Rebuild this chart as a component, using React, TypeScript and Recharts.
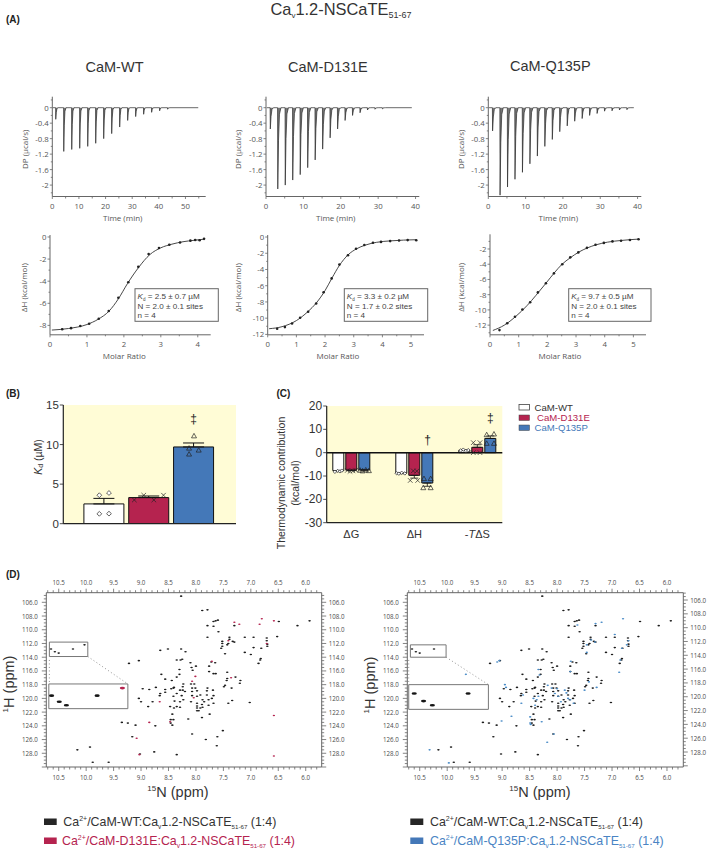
import React from 'react';
import { ComposedChart, Line, Area, Scatter, Bar, Cell, ErrorBar, XAxis, YAxis, CartesianGrid, ReferenceArea, ReferenceLine } from 'recharts';

const W = 709, H = 849;
const INK = '#565656';
const RED = '#B5234F';
const BLUE = '#4478B8';
const YELLOW = '#FFFCD6';
const SANS = '"Liberation Sans", Arial, sans-serif';
const OPEN = '"Open Sans", sans-serif';

// ---- Panel A: thermograms (injection depth, µcal/s)
const wtInjectionTimes = [1.25, 4.25, 7.25, 10.25, 13.25, 16.25, 19.25, 22.25, 25.25, 28.25, 31.25, 34.25, 37.25, 40.25, 43.25];
const wtPeaks = [-0.3, -1.13, -1.08, -1.05, -1.0, -0.92, -0.8, -0.67, -0.5, -0.33, -0.23, -0.17, -0.12, -0.08, -0.04];
const d131eInjectionTimes = [1.1, 3.1, 5.1, 7.1, 9.1, 11.1, 13.1, 15.1, 17.1, 19.1, 21.1, 23.1, 25.1, 27.1, 29.1, 31.1];
const d131ePeaks = [-0.55, -2.1, -2.0, -1.87, -1.73, -1.55, -1.35, -1.07, -0.78, -0.55, -0.33, -0.2, -0.13, -0.06, -0.04, -0.03];
const q135pInjectionTimes = [1.1, 3.1, 5.1, 7.1, 9.1, 11.1, 13.1, 15.1, 17.1, 19.1, 21.1, 23.1, 25.1, 27.1, 29.1, 31.1, 33.1, 35.1, 37.1];
const q135pPeaks = [-0.6, -2.26, -2.05, -1.85, -1.67, -1.45, -1.25, -1.0, -0.82, -0.62, -0.47, -0.35, -0.28, -0.2, -0.15, -0.09, -0.08, -0.06, -0.05];

// ---- Panel A: isotherms
const wtIsoPoints = [[0.33, -8.35], [0.57, -8.25], [0.82, -8.05], [1.06, -7.85], [1.32, -7.4], [1.59, -6.7], [1.85, -5.5], [2.12, -4.1], [2.39, -2.7], [2.67, -1.55], [2.95, -1.0], [3.23, -0.7], [3.52, -0.5], [3.8, -0.33], [3.93, -0.27], [4.05, -0.3], [4.17, -0.17]];
const wtIsoFit = [[0.05, -8.42], [0.5, -8.28], [1, -7.92], [1.3, -7.45], [1.6, -6.7], [1.85, -5.6], [2.1, -4.2], [2.4, -2.75], [2.7, -1.6], [3, -0.98], [3.3, -0.65], [3.6, -0.43], [3.9, -0.3], [4.17, -0.2]];
const d131eIsoPoints = [[0.33, -11.3], [0.6, -11.1], [0.85, -10.65], [1.13, -9.95], [1.41, -9.2], [1.69, -8.2], [1.95, -6.8], [2.23, -5.1], [2.5, -3.4], [2.8, -2.25], [3.08, -1.45], [3.37, -0.98], [3.67, -0.7], [3.95, -0.6], [4.27, -0.5], [4.58, -0.42], [4.88, -0.38], [5.18, -0.4]];
const d131eIsoFit = [[0.05, -11.3], [0.5, -11.05], [1, -10.3], [1.4, -9.2], [1.7, -8.1], [2, -6.6], [2.25, -5.0], [2.5, -3.5], [2.8, -2.2], [3.1, -1.45], [3.4, -1.0], [3.8, -0.65], [4.3, -0.47], [5.18, -0.33]];
const q135pIsoPoints = [[0.33, -12.65], [0.6, -11.75], [0.87, -10.9], [1.13, -9.95], [1.4, -9], [1.67, -7.7], [1.95, -6.5], [2.23, -5.2], [2.52, -4], [2.8, -3.1], [3.08, -2.45], [3.38, -1.85], [3.68, -1.45], [3.97, -1.2], [4.27, -1.0], [4.57, -0.92], [4.88, -0.82], [5.18, -0.72]];
const q135pIsoFit = [[0.1, -12.7], [0.5, -12.0], [0.9, -10.85], [1.3, -9.4], [1.6, -8.1], [1.95, -6.5], [2.25, -5.1], [2.5, -4.05], [2.8, -3.15], [3.1, -2.4], [3.4, -1.85], [3.7, -1.45], [4.1, -1.1], [4.6, -0.87], [5.18, -0.7]];

// ---- Panel B
const kdCategories = ['WT', 'D131E', 'Q135P'];
const kdValues = [2.5, 3.3, 9.7];
const kdErrors = [0.7, 0.2, 0.5];
const kdColors = ['#FFFFFF', RED, BLUE];
const kdWt = [[-0.11, 3.6], [0.105, 3.88], [-0.11, 1.25], [0.105, 1.27]];
const kdD131e = [[0.67, 3.0], [0.88, 3.6], [1.105, 3.0], [1.32, 3.6]];
const kdQ135p = [[1.89, 8.8], [2.105, 9.3], [1.89, 9.55], [2.0, 11.1]];

// ---- Panel C
const thermoCategories = ['ΔG', 'ΔH', '-TΔS'];
const thermoWt = [-7.7, -8.8, 1.0];
const thermoD131e = [-7.5, -9.7, 2.3];
const thermoQ135p = [-7.4, -13.0, 6.1];
const thermoWtErr = [0.2, 0.2, 0.15];
const thermoD131eErr = [0.2, 1.2, 1.1];
const thermoQ135pErr = [0.15, 1.4, 1.1];
const thermoWtPts = [[-0.26, -8.2], [-0.215, -7.8], [-0.18, -8.0], [-0.15, -7.7], [0.72, -8.8], [0.755, -9.0], [0.8, -8.6], [0.85, -8.9], [1.736, 1.0], [1.778, 1.3], [1.82, 0.8], [1.857, 1.1]];
const thermoD131ePts = [[-0.063, -7.6], [-0.02, -8.0], [0.027, -7.8], [0.07, -7.5], [0.936, -11.9], [1.054, -11.9], [0.984, -7.8], [1.04, -7.9], [1.937, 4.3], [2.043, 4.3], [1.937, 0], [2.043, 0]];
const thermoQ135pPts = [[0.14, -7.5], [0.18, -7.8], [0.23, -7.4], [0.28, -7.7], [1.154, -11.1], [1.26, -11.1], [1.143, -15], [1.26, -15], [2.149, 7.7], [2.265, 8.0], [2.149, 4.0], [2.265, 4.0]];

// ---- Panel D: HSQC peaks as [15N, 1H] ppm
const wtPeaksNmr = [
  [8.27, 105.1], [7.885, 107.2], [7.79, 107.1], [7.68, 108.8], [7.64, 108.7], [7.6, 108.6], [7.79, 109.4], [7.68, 109.5], [7.59, 110.3], [7.79, 111.1],
  [7.39, 111.1], [7.39, 111.4], [7.52, 111.7], [7.52, 112.0], [7.52, 112.4], [7.54, 112.7], [7.43, 112.2], [7.41, 112], [7.33, 111.7], [7.3, 111.8],
  [7.47, 113.5], [7.3, 109.4], [7.11, 111.1], [7.11, 113.3], [7, 113.6], [6.95, 111.1], [6.95, 112.6], [6.81, 112.7], [6.71, 111.2], [6.71, 111.6],
  [6.7, 112.1], [6.7, 112.4], [6.52, 111.0], [6.49, 108.8], [6.15, 109.4], [5.93, 108.7], [6.82, 114.2], [6.83, 114.4], [6.86, 114.9], [8.65, 113.0],
  [8.51, 112.8], [8.27, 112.8], [8.19, 113.2], [8.35, 114.4], [8.28, 114.4], [8.25, 114.3], [9.22, 114.9], [9.04, 114.5], [8.1, 114.8], [8.08, 115.5],
  [8.06, 115.9], [8.0, 115.3], [8.3, 115.8], [8.63, 116.5], [8.56, 117.2], [8.44, 117.4], [8.3, 116.5], [8.35, 116.9], [7.65, 114.8], [7.72, 114.7],
  [7.76, 115.3], [7.76, 116.1], [7.68, 116.4], [7.64, 116.4], [7.43, 116.2], [7.43, 117.1], [7.44, 117.4], [7.28, 116.9], [7.19, 117.4], [7.2, 117.8],
  [7.47, 118.1], [7.49, 118.3], [7.35, 118.5], [7.34, 120.3], [7.41, 120.7], [7.02, 120.6], [8.97, 118.6], [8.85, 118.7], [8.73, 118.4], [8.65, 119.3],
  [8.66, 119.6], [8.56, 118.7], [8.56, 119.1], [9.04, 120], [9, 120.5], [8.79, 120.5], [8.87, 121.2], [8.45, 118.6], [8.41, 118.5], [8.4, 118.4],
  [8.23, 117.9], [8.24, 118.3], [8.24, 118.8], [8.2, 119], [8.29, 118.8], [8.35, 119.3], [8.41, 119.7], [8.26, 119.6], [8.23, 120.2], [8.29, 120.5],
  [8.39, 120.4], [8.35, 121.2], [8.4, 121.4], [8.29, 121.3], [8.47, 121.2], [8.43, 122.3], [8.09, 117.9], [8.03, 117.9], [8.07, 118.5], [8.01, 118.5],
  [8.07, 119], [7.98, 118.9], [8.07, 119.6], [7.98, 119.7], [7.92, 119.5], [8.09, 120.5], [7.98, 120.7], [7.98, 121.1], [7.98, 121.4], [7.92, 121.4],
  [7.98, 121.8], [7.95, 121.8], [7.88, 121.3], [7.89, 120.9], [7.88, 120.2], [7.85, 120.5], [7.79, 118.5], [7.8, 118.9], [7.8, 119.5], [7.77, 120.2],
  [7.68, 119.6], [7.69, 118.8], [7.71, 120], [7.68, 120.7], [7.77, 121], [7.89, 122.8], [7.75, 122.3], [8.14, 123], [8.07, 125.2], [7.82, 126],
  [7.61, 125.6], [7.51, 124.7], [7.62, 126.9], [9.35, 123.5], [9.24, 123.6], [9.1, 123.9], [8.74, 124], [8.46, 123.1], [8.41, 123.1], [8.46, 123.6],
  [8.43, 123.9], [9.16, 125.6], [10.16, 127.5], [9.93, 127.1], [9.88, 129.3], [9.59, 129.3], [9.02, 128.1], [8.76, 127.8], [8.35, 128.2],
  [10.64, 112.8], [10.57, 113.2], [10.5, 113.4], [10.24, 112.8],
];
const wtExtraLeft = [[10.03, 112.2]];
const d131ePeaksNmr = [[6.58, 108.7], [9.08, 125.8], [8.66, 120.5], [6.8, 108.4], [6.84, 109.2], [7.3, 108.9], [7.21, 109.2], [7.71, 114.6], [8.07, 117.5], [8.01, 116.8], [7.36, 117], [7.41, 111.6], [6.71, 112], [8.47, 123.4], [8.85, 123.5], [9.03, 128.2], [6.58, 128.4], [6.58, 122.5], [8.04, 119.9]];
const q135pPeaksNmr = [[9.66, 116.5], [9.09, 114.7], [9.05, 114.5], [8.95, 118], [8.93, 118.4], [9.01, 123.3], [8.83, 122.6], [10.32, 127.5], [9.97, 129.4], [8.18, 126.4], [8.06, 125.2], [8.49, 122.7], [8.48, 123.8], [8.49, 123.6], [8.28, 123.4], [8.34, 115.8], [8.32, 116.6], [8.65, 120.7], [8.62, 119.5], [8.43, 120], [8.37, 120.2], [8.34, 119.7], [8.4, 121], [8.17, 118.1], [8.1, 118.5], [8.04, 119.3], [8, 118.6], [7.98, 119.7], [7.93, 120.5], [7.86, 118.8], [7.8, 120], [7.76, 120.2], [7.7, 120.7], [7.83, 119.2], [7.76, 116.1], [7.75, 114.6], [7.5, 118.8], [7.28, 118.4], [7.42, 117.6], [7.46, 112.2], [7.46, 113.3], [7.63, 109.3], [7.38, 111.5], [7.31, 111.8], [7.3, 109.1], [7.19, 108.9], [6.8, 108.4], [6.95, 110.7], [6.7, 111.6], [6.85, 114.4], [6.87, 116.2], [6.82, 112.7], [6.73, 112.2]];
const leftInsetBlack = [[10.63, 119.6], [10.49, 120.5], [10.36, 121], [9.8, 119.6]];
const leftInsetRed = [[9.34, 118.5]];
const rightInsetBlack = [[10.6, 119.3], [10.43, 120.4], [10.27, 121], [9.62, 119.3]];

// ---- Helpers
const seq = (a: number, b: number, s: number) => {
  const out: number[] = [];
  const n = Math.round((b - a) / s);
  for (let i = 0; i <= n; i++) out.push(Math.round((a + i * s) * 1000) / 1000);
  return out;
};
const isMult = (v: number, m: number) => Math.abs(v / m - Math.round(v / m)) < 1e-6;
const pairs = (a: number[][]) => a.map(([x, y]) => ({ x, y }));

const thermogramRows = (times: number[], peaks: number[], end: number) => {
  const rows: { x: number; y: number }[] = [{ x: 0.2, y: 0 }];
  times.forEach((t, i) => {
    const d = peaks[i];
    rows.push({ x: t, y: 0 }, { x: t + 0.05, y: d }, { x: t + 0.25, y: d * 0.4 }, { x: t + 0.5, y: d * 0.08 }, { x: t + 0.9, y: 0 });
  });
  rows.push({ x: end, y: 0 });
  return rows;
};

type TickOpts = { side: 'left' | 'right' | 'top' | 'bottom'; major: number; fmt?: (v: number) => string; font: number; family?: string; color?: string; majorLen: number; minorLen: number; gap: number; stroke?: string };
const makeTick = (o: TickOpts) => (p: any) => {
  const v = p.payload.value as number;
  const isMajor = isMult(v, o.major);
  const len = isMajor ? o.majorLen : o.minorLen;
  const fmt = o.fmt || ((n: number) => String(n));
  const st = o.stroke || '#666';
  const tc = { fontSize: o.font, fontFamily: o.family || OPEN, fill: o.color || INK };
  const { x, y } = p;
  const label = isMajor ? fmt(v) : '';
  if (o.side === 'left' || o.side === 'right') {
    const s = o.side === 'left' ? -1 : 1;
    return (
      <g>
        <line x1={x} x2={x + s * len} y1={y} y2={y} stroke={st} strokeWidth={0.8} />
        {label && <text x={x + s * (o.majorLen + o.gap)} y={y} textAnchor={s < 0 ? 'end' : 'start'} dominantBaseline="central" {...tc}>{label}</text>}
      </g>
    );
  }
  const s = o.side === 'top' ? -1 : 1;
  return (
    <g>
      <line x1={x} x2={x} y1={y} y2={y + s * len} stroke={st} strokeWidth={0.8} />
      {label && <text x={x} y={y + s * (o.majorLen + o.gap)} textAnchor="middle" dominantBaseline={s < 0 ? 'auto' : 'hanging'} {...tc}>{label}</text>}
    </g>
  );
};

const Layer = ({ children }: { children: React.ReactNode }) => (
  <div style={{ position: 'absolute', left: 0, top: 0, width: W, height: H }}>{children}</div>
);
// plot rectangle in page pixels; axes take 1px of the margin on the sides where they are drawn
const frame = (l: number, t: number, r: number, b: number, axL = 1, axT = 0, axR = 0, axB = 1) => ({ left: l - axL, top: t - axT, right: W - r - axR, bottom: H - b - axB });
const axisCommon = { tickSize: 0, tickMargin: 0, tickLine: false, interval: 0 as const, allowDataOverflow: true, minTickGap: 0 };

const ThermoPanel = ({ rows, l, r, xMax, xTicks }: any) => (
  <Layer>
    <ComposedChart width={W} height={H} data={rows} margin={frame(l, 96.7, r, 196.5)}>
      <XAxis {...axisCommon} type="number" dataKey="x" height={1} domain={[0, xMax]} ticks={xTicks} stroke="#666"
        tick={makeTick({ side: 'bottom', major: 10, font: 7.8, majorLen: 2.5, minorLen: 2, gap: 4 })} />
      <YAxis {...axisCommon} type="number" width={1} domain={[-2.295, 0.284]} ticks={seq(-2.2, 0.2, 0.2)} stroke="#666"
        tick={makeTick({ side: 'left', major: 0.4, font: 7.8, majorLen: 2.5, minorLen: 1.5, gap: 1 })} />
      <Area dataKey="y" stroke="none" fill="#555" fillOpacity={0.8} isAnimationActive={false} />
      <Line dataKey="y" stroke="#2a2a2a" strokeWidth={0.7} dot={false} isAnimationActive={false} />
    </ComposedChart>
  </Layer>
);

const PointDot = (p: any) => <circle cx={p.cx} cy={p.cy} r={1.3} fill="#222" />;

const IsoPanel = ({ fit, pts, l, t, r, xMax, yMin, yMax, yTicks, yMajor }: any) => (
  <Layer>
    <ComposedChart width={W} height={H} margin={frame(l, t, r, 334.8)}>
      <XAxis {...axisCommon} type="number" dataKey="x" height={1} domain={[0, xMax]} ticks={seq(0, Math.floor(xMax * 2) / 2, 0.5)} stroke="#666"
        tick={makeTick({ side: 'bottom', major: 1, font: 7.8, majorLen: 2.5, minorLen: 1.5, gap: 3 })} />
      <YAxis {...axisCommon} type="number" width={1} domain={[yMin, yMax]} ticks={yTicks} stroke="#666"
        tick={makeTick({ side: 'left', major: yMajor, font: 7.8, majorLen: 2.5, minorLen: 1.5, gap: 1 })} />
      <Line data={pairs(fit)} dataKey="y" type="monotone" stroke="#333" strokeWidth={0.9} dot={false} isAnimationActive={false} />
      <Scatter data={pairs(pts)} dataKey="y" shape={PointDot} isAnimationActive={false} />
    </ComposedChart>
  </Layer>
);

const diamond = (r: number, fill: string) => (p: any) => <path d={`M${p.cx} ${p.cy - r}L${p.cx + r} ${p.cy}L${p.cx} ${p.cy + r}L${p.cx - r} ${p.cy}Z`} fill={fill} stroke="#222" strokeWidth={0.7} />;
const Cross = (p: any) => <path d={`M${p.cx - 2.3} ${p.cy - 2.3}L${p.cx + 2.3} ${p.cy + 2.3}M${p.cx + 2.3} ${p.cy - 2.3}L${p.cx - 2.3} ${p.cy + 2.3}`} fill="none" stroke="#222" strokeWidth={0.7} />;
const Tri = (p: any) => <path d={`M${p.cx} ${p.cy - 2.5}L${p.cx + 2.5} ${p.cy + 2}L${p.cx - 2.5} ${p.cy + 2}Z`} fill="none" stroke="#222" strokeWidth={0.7} />;

const smallPeak = (color: string, rx = 1.3, ry = 0.8) => (p: any) => <ellipse cx={p.cx} cy={p.cy} rx={rx} ry={ry} fill={color} />;

const nmrTickFmt = (v: number) => v.toFixed(1);
const NmrPanel = ({ l, r, xDomain, rightDomain, seriesPeaks, seriesColor, insetSeries, boxA, boxB, dots, extra }: any) => {
  const base = { font: 6.2, color: '#4a4a4a', fmt: nmrTickFmt, family: OPEN };
  const xTicks = seq(5.8, 10.7, 0.1);
  const yTicks = seq(105, 130, 0.5);
  const xb = { majorLen: 4, minorLen: 2.5, gap: 3.5 };
  const yFmt = (v: number) => (v >= 106 && v <= 128 ? v.toFixed(1) : '');
  return (
    <Layer>
      <ComposedChart width={W} height={H} margin={frame(l, 592.7, r, 767, 1, 1, 1, 1)}>
        <XAxis {...axisCommon} xAxisId="b" orientation="bottom" type="number" dataKey="x" reversed height={1} domain={xDomain} ticks={xTicks} stroke="#666"
          tick={makeTick({ ...base, ...xb, side: 'bottom', major: 0.5 })} />
        <XAxis {...axisCommon} xAxisId="t" orientation="top" type="number" dataKey="x" reversed height={1} domain={xDomain} ticks={xTicks} stroke="#666"
          tick={makeTick({ ...base, ...xb, side: 'top', major: 0.5 })} />
        <YAxis {...axisCommon} yAxisId="l" orientation="left" type="number" dataKey="y" reversed width={1} domain={[104.6, 130]} ticks={yTicks} stroke="#666"
          tick={makeTick({ ...base, majorLen: 4.5, minorLen: 2.5, gap: 4, side: 'left', major: 2, fmt: yFmt })} />
        <YAxis {...axisCommon} yAxisId="r" orientation="right" type="number" dataKey="y" reversed width={1} domain={rightDomain} ticks={yTicks} stroke="#666"
          tick={makeTick({ ...base, majorLen: 4.5, minorLen: 2.5, gap: 2.5, side: 'right', major: 2, fmt: yFmt })} />
        <Scatter xAxisId="b" yAxisId="l" data={pairs(wtPeaksNmr)} shape={smallPeak('#1c1c1c')} isAnimationActive={false} />
        {extra && <Scatter xAxisId="b" yAxisId="l" data={pairs(extra)} shape={smallPeak('#1c1c1c')} isAnimationActive={false} />}
        <Scatter xAxisId="b" yAxisId="l" data={pairs(seriesPeaks)} shape={smallPeak(seriesColor, 1.2, 0.8)} isAnimationActive={false} />
        {insetSeries.map((s: any, i: number) => (
          <Scatter key={i} xAxisId="b" yAxisId="l" data={pairs(s.data)} shape={smallPeak(s.color, 2.6, 1.3)} isAnimationActive={false} />
        ))}
        {[boxA, boxB].map((b: number[], i: number) => (
          <ReferenceArea key={i} xAxisId="b" yAxisId="l" x1={b[0]} x2={b[1]} y1={b[2]} y2={b[3]} fill="none" stroke="#777" strokeWidth={1} fillOpacity={0} ifOverflow="visible" />
        ))}
        {dots.map((d: number[], i: number) => (
          <ReferenceLine key={i} xAxisId="b" yAxisId="l" segment={[{ x: d[0], y: d[1] }, { x: d[2], y: d[3] }]} stroke="#777" strokeWidth={0.8} strokeDasharray="1 2.5" ifOverflow="visible" />
        ))}
      </ComposedChart>
    </Layer>
  );
};

// text made of runs shifted from the baseline: [text, fontSize, shift, italic?]
const runs = (segs: any[]) => {
  let prev = 0;
  return segs.map((s, i) => {
    const dy = s[2] - prev;
    prev = s[2];
    return <tspan key={i} dy={dy} fontSize={s[1]} fontStyle={s[3] ? 'italic' : undefined}>{s[0]}</tspan>;
  });
};

const AnnBox = ({ x, x2, k, nLine }: { x: number; x2: number; k: string; nLine: string }) => {
  const c = { fontFamily: SANS, fontSize: 8.1, fill: '#444' };
  return (
    <g>
      <rect x={x} y={288.7} width={x2 - x} height={32.6} fill="#fff" stroke="#666" strokeWidth={1} />
      <text x={x + 2.5} y={299} {...c}>{runs([['K', 8.1, 0, true], ['d', 4.5, 1.5], [` = ${k} µM`, 8.1, 0]])}</text>
      <text x={x + 2.5} y={308.5} {...c}>N = {nLine} sites</text>
      <text x={x + 2.5} y={318} {...c}>n = 4</text>
    </g>
  );
};

const LEG = 12.4;
const NmrLegendText = ({ x, y, name, color }: { x: number; y: number; name: string; color: string }) => (
  <text x={x} y={y} fontFamily={SANS} fontSize={LEG} fill={color}>
    {runs([['Ca', LEG, 0], ['2+', 7, -5], [`/${name}:Ca`, LEG, 0], ['v', 6.5, 2.5], ['1.2-NSCaTE', LEG, 0], ['51-67', 6.2, 2.5], [' (1:4)', LEG, 0]])}
  </text>
);

const Rot = ({ x, y, children, font = 8, family = OPEN, fill = INK }: any) => (
  <text x={x} y={y} transform={`rotate(-90 ${x} ${y})`} textAnchor="middle" dominantBaseline="central" fontSize={font} fontFamily={family} fill={fill}>{children}</text>
);
const Mid = ({ x, y, children, font = 8, family = OPEN, fill = INK }: any) => (
  <text x={x} y={y} textAnchor="middle" dominantBaseline="central" fontSize={font} fontFamily={family} fill={fill}>{children}</text>
);

const thermoRows = thermoCategories.map((c, i) => ({
  x: i, label: c, wt: thermoWt[i], d131e: thermoD131e[i], q135p: thermoQ135p[i],
  wtE: thermoWt[i] < 0 ? [thermoWtErr[i], 0] : [0, thermoWtErr[i]],
  dE: thermoD131e[i] < 0 ? [thermoD131eErr[i], 0] : [0, thermoD131eErr[i]],
  qE: thermoQ135p[i] < 0 ? [thermoQ135pErr[i], 0] : [0, thermoQ135pErr[i]],
}));
const kdRows = kdCategories.map((c, i) => ({ label: c, kd: kdValues[i], e: [0, kdErrors[i]] }));

const thermoTick = (p: any) => {
  const lab = thermoCategories[p.payload.value] || '';
  const parts = lab.split('T');
  return (
    <text x={p.x} y={p.y + 11} textAnchor="middle" dominantBaseline="central" fontFamily={SANS} fontSize={11} fill="#333">
      {parts.length > 1 ? (<>{parts[0]}<tspan fontStyle="italic">T</tspan>{parts[1]}</>) : lab}
    </text>
  );
};

const C_MARGIN = { left: 326.7, top: 406, right: W - 502.3, bottom: H - 522.7 };
const C_XDOMAIN = [-0.39, 2.397];

export default function App() {
  return (
    <div style={{ position: 'absolute', left: 0, top: 0, width: W, height: H, background: '#fff', overflow: 'hidden' }}>
      <ThermoPanel rows={thermogramRows(wtInjectionTimes, wtPeaks, 54.8)} l={52.3} r={205.7} xMax={57.6} xTicks={seq(0, 55, 5)} />
      <ThermoPanel rows={thermogramRows(d131eInjectionTimes, d131ePeaks, 39)} l={266} r={419.3} xMax={41} xTicks={seq(0, 40, 5)} />
      <ThermoPanel rows={thermogramRows(q135pInjectionTimes, q135pPeaks, 39)} l={488.3} r={641.3} xMax={41} xTicks={seq(0, 40, 5)} />

      <IsoPanel fit={wtIsoFit} pts={wtIsoPoints} l={50} t={235} r={210.7} xMax={4.35} yMin={-8.85} yMax={0.18} yTicks={seq(-8, 0, 1)} yMajor={2} />
      <IsoPanel fit={d131eIsoFit} pts={d131eIsoPoints} l={267.7} t={235} r={424} xMax={5.45} yMin={-12.05} yMax={0.25} yTicks={seq(-12, 0, 1)} yMajor={2} />
      <IsoPanel fit={q135pIsoFit} pts={q135pIsoPoints} l={490} t={234.3} r={646} xMax={5.44} yMin={-13.27} yMax={-0.07} yTicks={seq(-13, -1, 1)} yMajor={2} />

      {/* Panel B */}
      <Layer>
        <ComposedChart width={W} height={H} data={kdRows} margin={frame(63.3, 405, 236, 523.7)} barSize={40}>
          <CartesianGrid fill={YELLOW} horizontal={false} vertical={false} />
          <XAxis xAxisId="cat" {...axisCommon} type="category" dataKey="label" height={1} padding={{ left: 18.6, right: 19.6 }} tick={false} stroke="#222" strokeWidth={1.2} />
          <XAxis xAxisId="num" type="number" dataKey="x" hide domain={[-0.913, 2.936]} allowDataOverflow />
          <YAxis {...axisCommon} type="number" width={1} domain={[0, 15]} ticks={[0, 5, 10, 15]} stroke="#222" strokeWidth={1.2}
            tick={makeTick({ side: 'left', major: 5, font: 11.5, family: SANS, color: '#333', majorLen: 3.5, minorLen: 3.5, gap: 1, stroke: '#222' })} />
          <Bar xAxisId="cat" dataKey="kd" stroke="#111" strokeWidth={1} isAnimationActive={false}>
            {kdColors.map((c, i) => <Cell key={i} fill={c} />)}
            <ErrorBar dataKey={(d: any) => d.e} direction="y" width={10.5} stroke="#111" strokeWidth={1} isAnimationActive={false} />
          </Bar>
          <Scatter xAxisId="num" data={pairs(kdWt)} dataKey="y" shape={diamond(2.4, '#fff')} isAnimationActive={false} />
          <Scatter xAxisId="num" data={pairs(kdD131e)} dataKey="y" shape={Cross} isAnimationActive={false} />
          <Scatter xAxisId="num" data={pairs(kdQ135p)} dataKey="y" shape={Tri} isAnimationActive={false} />
        </ComposedChart>
      </Layer>

      {/* Panel C: background and axes */}
      <Layer>
        <ComposedChart width={W} height={H} data={thermoRows} margin={frame(326.7, 406, 502.3, 522.7)}>
          <CartesianGrid fill={YELLOW} horizontal={false} vertical={false} />
          <XAxis {...axisCommon} type="number" dataKey="x" height={1} domain={C_XDOMAIN} ticks={[0, 1, 2]} tick={thermoTick} stroke="#222" strokeWidth={1.2} />
          <YAxis {...axisCommon} type="number" width={1} domain={[-30, 20]} ticks={[-30, -20, -10, 0, 10, 20]} stroke="#222" strokeWidth={1.2}
            tick={makeTick({ side: 'left', major: 10, font: 12, family: SANS, color: '#333', majorLen: 3.5, minorLen: 3.5, gap: 1, stroke: '#222' })} />
        </ComposedChart>
      </Layer>
      {/* Panel C: bars, on bands 63px wide that reach past the axis */}
      <Layer>
        <ComposedChart width={W} height={H} data={thermoRows} margin={{ left: 319.8, top: 406, right: W - 508.8, bottom: H - 522.7 }} barSize={11} barGap={2}>
          <XAxis type="category" dataKey="label" hide />
          <YAxis type="number" hide domain={[-30, 20]} allowDataOverflow />
          <Bar dataKey="wt" fill="#fff" stroke="#111" strokeWidth={1} isAnimationActive={false}>
            <ErrorBar dataKey={(d: any) => d.wtE} direction="y" width={4} stroke="#111" strokeWidth={0.8} isAnimationActive={false} />
          </Bar>
          <Bar dataKey="d131e" fill={RED} stroke="#111" strokeWidth={1} isAnimationActive={false}>
            <ErrorBar dataKey={(d: any) => d.dE} direction="y" width={4} stroke="#111" strokeWidth={0.8} isAnimationActive={false} />
          </Bar>
          <Bar dataKey="q135p" fill={BLUE} stroke="#111" strokeWidth={1} isAnimationActive={false}>
            <ErrorBar dataKey={(d: any) => d.qE} direction="y" width={4} stroke="#111" strokeWidth={0.8} isAnimationActive={false} />
          </Bar>
        </ComposedChart>
      </Layer>
      {/* Panel C: zero line and points */}
      <Layer>
        <ComposedChart width={W} height={H} margin={C_MARGIN}>
          <XAxis type="number" dataKey="x" hide domain={C_XDOMAIN} allowDataOverflow />
          <YAxis type="number" hide domain={[-30, 20]} allowDataOverflow />
          <ReferenceLine y={0} stroke="#111" strokeWidth={1.5} />
          <Scatter data={pairs(thermoWtPts)} dataKey="y" shape={diamond(1.7, '#fff')} isAnimationActive={false} />
          <Scatter data={pairs(thermoD131ePts)} dataKey="y" shape={Cross} isAnimationActive={false} />
          <Scatter data={pairs(thermoQ135pPts)} dataKey="y" shape={Tri} isAnimationActive={false} />
        </ComposedChart>
      </Layer>

      {/* Panel D */}
      <NmrPanel l={46.3} r={321.7} xDomain={[5.709, 10.726]} rightDomain={[104.6, 130]} seriesPeaks={d131ePeaksNmr} seriesColor={RED}
        extra={wtExtraLeft}
        insetSeries={[{ data: leftInsetBlack, color: '#151515' }, { data: leftInsetRed, color: RED }]}
        boxA={[10.67, 9.97, 111.8, 113.9]} boxB={[10.68, 9.24, 117.9, 121.5]}
        dots={[[9.97, 113.9, 9.24, 117.9], [10.67, 114.4, 10.67, 117.9]]} />
      <NmrPanel l={407.3} r={683.3} xDomain={[5.703, 10.726]} rightDomain={[104.94, 130.17]} seriesPeaks={q135pPeaksNmr} seriesColor="#4a8cc7"
        insetSeries={[{ data: rightInsetBlack, color: '#151515' }]}
        boxA={[10.67, 10.02, 112.2, 114]} boxB={[10.7, 9.25, 118, 121.6]}
        dots={[[10.02, 114, 9.25, 118], [10.7, 114.4, 10.7, 118]]} />

      {/* Text overlay */}
      <svg width={W} height={H} style={{ position: 'absolute', left: 0, top: 0, pointerEvents: 'none' }}>
        <text x={270.5} y={15} fontFamily={SANS} fontSize={16.4} fill="#333">{runs([['Ca', 16.4, 0], ['v', 8, 3], ['1.2-NSCaTE', 16.4, 0], ['51-67', 9, 3]])}</text>
        <text x={6} y={23} fontFamily={SANS} fontSize={10} fontWeight="bold" fill="#222">(A)</text>
        <text x={6} y={396.5} fontFamily={SANS} fontSize={10} fontWeight="bold" fill="#222">(B)</text>
        <text x={276.5} y={396.5} fontFamily={SANS} fontSize={10} fontWeight="bold" fill="#222">(C)</text>
        <text x={6} y={577.5} fontFamily={SANS} fontSize={10} fontWeight="bold" fill="#222">(D)</text>

        <text x={85.5} y={72} fontFamily={SANS} fontSize={14.5} fill="#333">CaM-WT</text>
        <text x={288} y={72} fontFamily={SANS} fontSize={14.5} fill="#333">CaM-D131E</text>
        <text x={510} y={70.5} fontFamily={SANS} fontSize={14.5} fill="#333">CaM-Q135P</text>

        <Rot x={24.7} y={149.3}>DP (µcal/s)</Rot>
        <Rot x={237.3} y={149.3}>DP (µcal/s)</Rot>
        <Rot x={460.3} y={149.3}>DP (µcal/s)</Rot>
        <Mid x={122.7} y={217.5}>Time (min)</Mid>
        <Mid x={335.7} y={217.5}>Time (min)</Mid>
        <Mid x={558.3} y={217.5}>Time (min)</Mid>
        <Rot x={24} y={287.7}>ΔH (kcal/mol)</Rot>
        <Rot x={237.7} y={287.7}>ΔH (kcal/mol)</Rot>
        <Rot x={460.7} y={287.3}>ΔH (kcal/mol)</Rot>
        <Mid x={124.3} y={355.3}>Molar Ratio</Mid>
        <Mid x={338} y={355.3}>Molar Ratio</Mid>
        <Mid x={560} y={355.3}>Molar Ratio</Mid>

        <AnnBox x={135} x2={218.3} k="2.5 ± 0.7" nLine="2.0 ± 0.1" />
        <AnnBox x={344.3} x2={427.7} k="3.3 ± 0.2" nLine="1.7 ± 0.2" />
        <AnnBox x={568.7} x2={651} k="9.7 ± 0.5" nLine="2.0 ± 0.1" />

        <text x={38} y={457} transform="rotate(-90 38 457)" textAnchor="middle" dominantBaseline="central" fontFamily={SANS} fontSize={10.5} fill="#333">{runs([['K', 10.5, 0, true], ['d', 7, 2], [' (µM)', 10.5, 0]])}</text>
        <Mid x={193.7} y={419} font={12} family={SANS} fill="#222">‡</Mid>
        <Mid x={427.7} y={439.5} font={12} family={SANS} fill="#222">†</Mid>
        <Mid x={490.3} y={417.5} font={12} family={SANS} fill="#222">‡</Mid>

        <Rot x={281} y={483} font={10.5} family={SANS} fill="#333">Thermodynamic contribution</Rot>
        <Rot x={295} y={483} font={10.5} family={SANS} fill="#333">(kcal/mol)</Rot>

        <rect x={519} y={404.5} width={10.5} height={5.5} fill="#fff" stroke="#444" strokeWidth={0.8} />
        <rect x={519} y={415} width={10.5} height={5.5} fill={RED} stroke="#444" strokeWidth={0.5} />
        <rect x={519} y={425} width={10.5} height={5.5} fill={BLUE} stroke="#444" strokeWidth={0.5} />
        <text x={534.5} y={410.5} fontFamily={SANS} fontSize={9.6} fill="#333">CaM-WT</text>
        <text x={537} y={420.8} fontFamily={SANS} fontSize={9.6} fill={RED}>CaM-D131E</text>
        <text x={534.5} y={431} fontFamily={SANS} fontSize={9.6} fill={BLUE}>CaM-Q135P</text>

        <Rot x={9} y={684} font={14.5} family={SANS} fill="#333">{runs([['1', 8, -4], ['H (ppm)', 14.5, 0]])}</Rot>
        <Rot x={370} y={685} font={14.5} family={SANS} fill="#333">{runs([['1', 8, -4], ['H (ppm)', 14.5, 0]])}</Rot>
        <Mid x={178} y={792} font={14.5} family={SANS} fill="#333">{runs([['15', 8, -4], ['N (ppm)', 14.5, 0]])}</Mid>
        <Mid x={540} y={792} font={14.5} family={SANS} fill="#333">{runs([['15', 8, -4], ['N (ppm)', 14.5, 0]])}</Mid>

        <rect x={44} y={818.5} width={12.7} height={6.5} fill="#262626" />
        <rect x={44} y={837.5} width={12.7} height={6.5} fill={RED} />
        <rect x={410.3} y={818.5} width={13} height={6.5} fill="#262626" />
        <rect x={410.3} y={837.5} width={13} height={6.5} fill={BLUE} />
        <NmrLegendText x={63.3} y={826} name="CaM-WT" color="#333" />
        <NmrLegendText x={62} y={845} name="CaM-D131E" color={RED} />
        <NmrLegendText x={430} y={826} name="CaM-WT" color="#333" />
        <NmrLegendText x={430} y={845} name="CaM-Q135P" color="#4a84c4" />
      </svg>
    </div>
  );
}
